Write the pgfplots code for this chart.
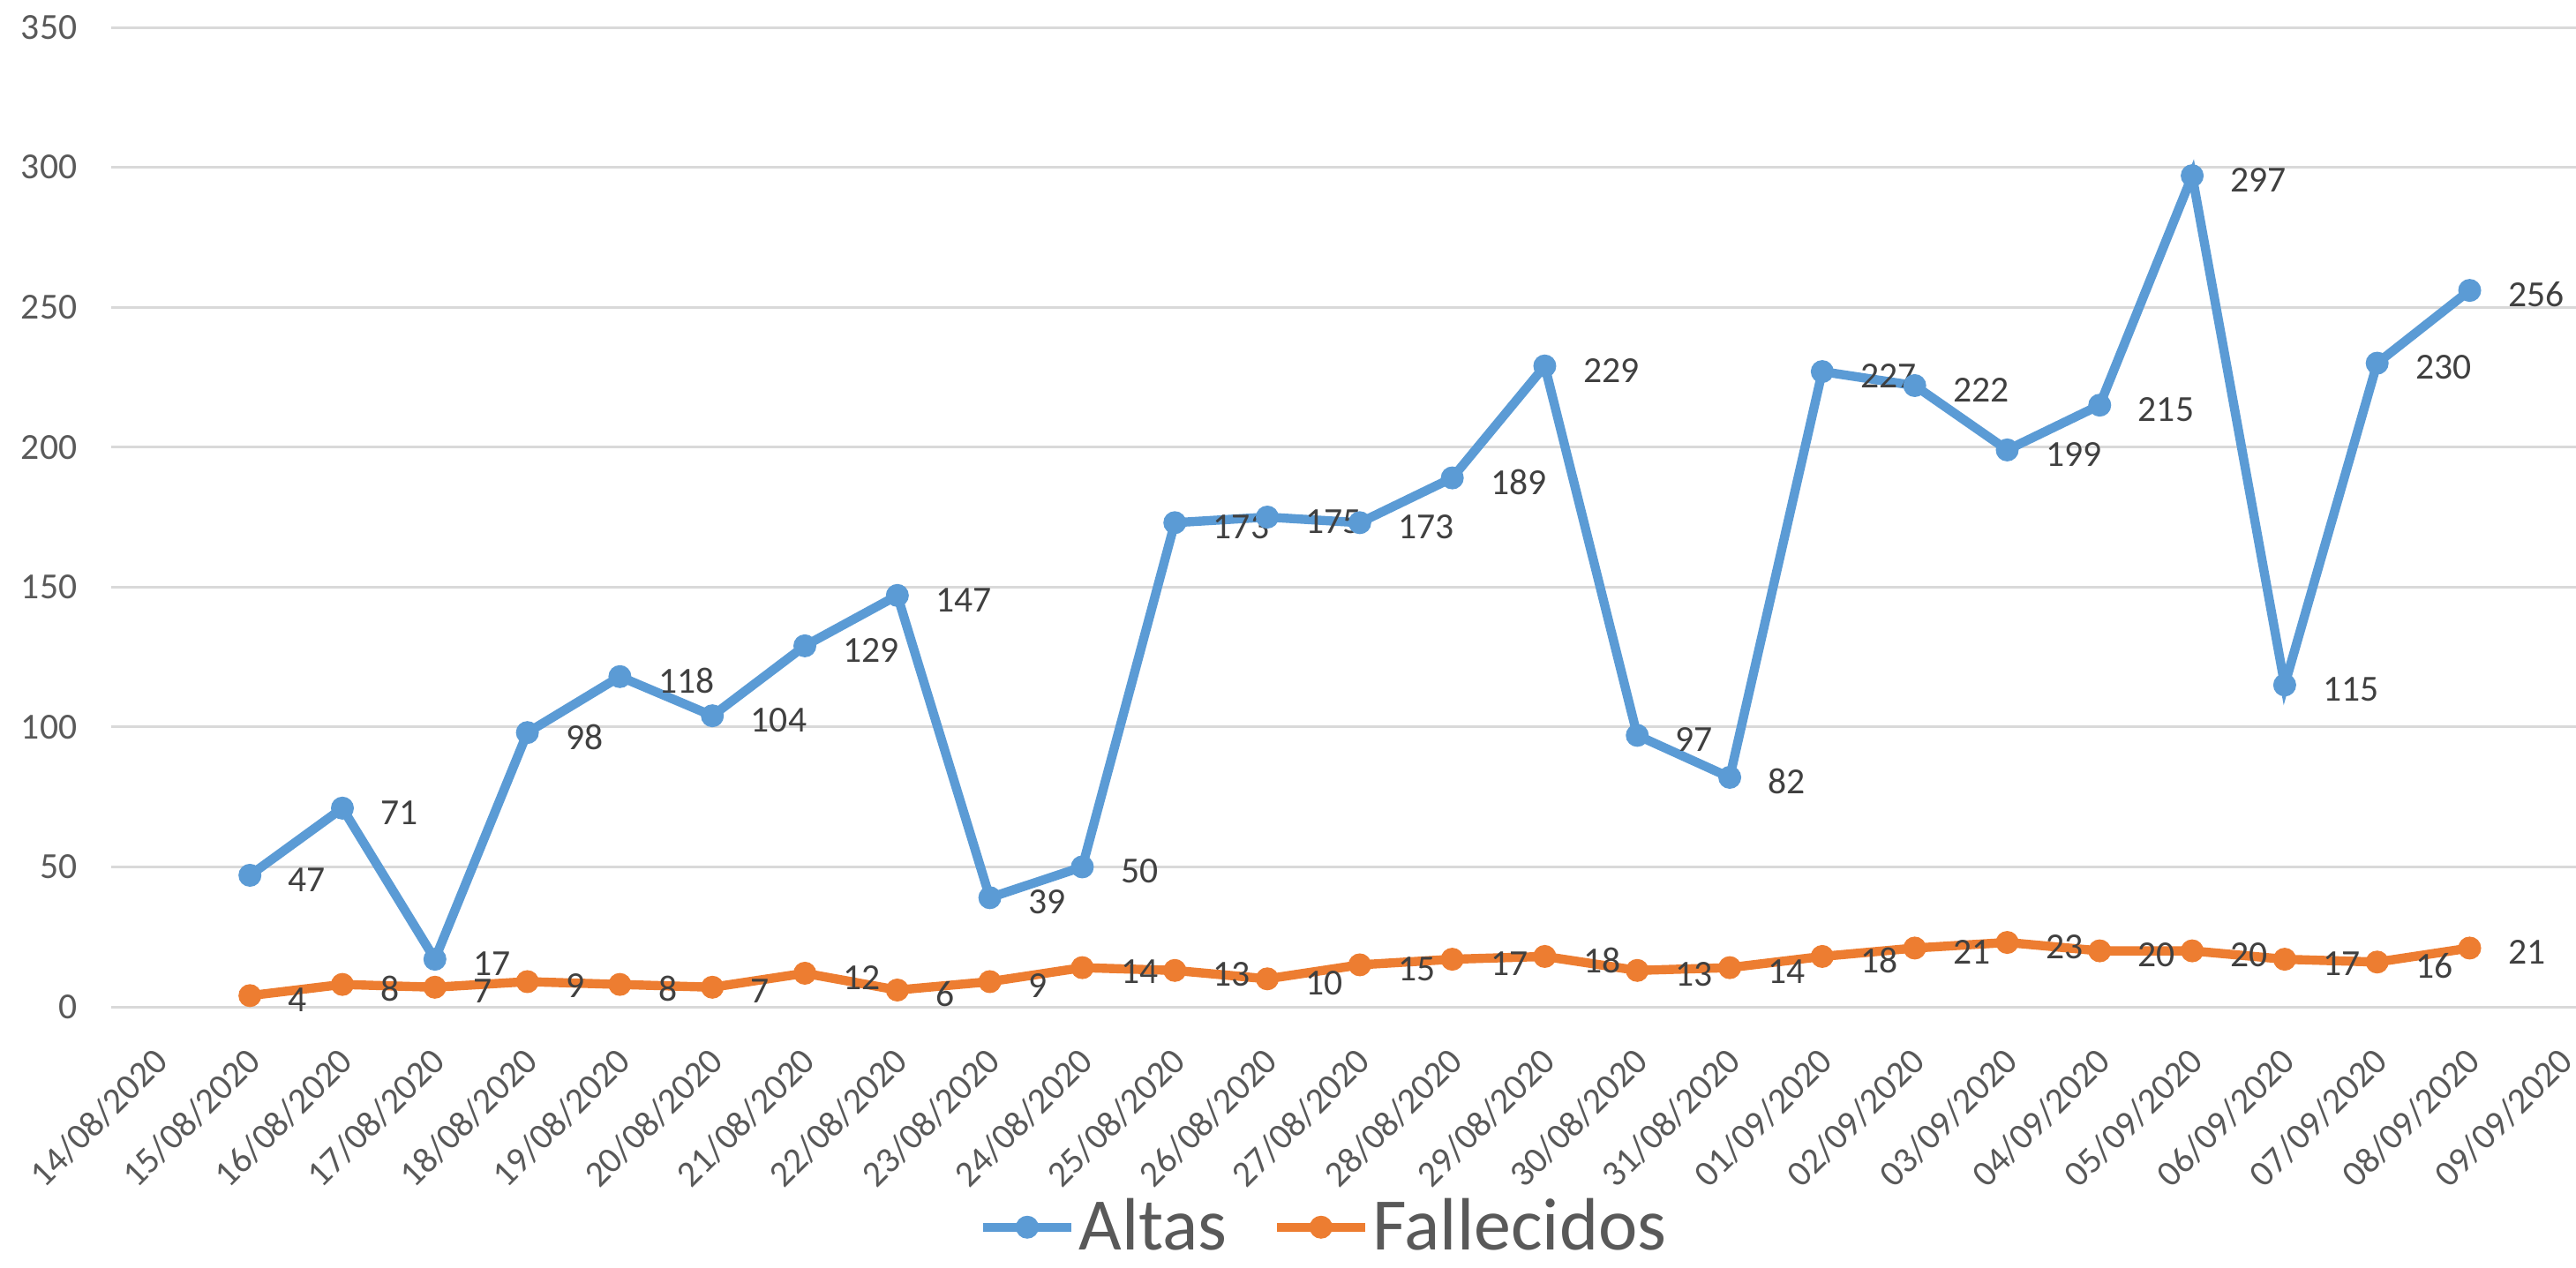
\documentclass[border=0pt]{standalone}
\usepackage{fontspec}
\setmainfont{Carlito}
\usepackage{pgfplots}
\usepackage{pgfplotstable}
\pgfplotsset{compat=1.18}
\usetikzlibrary{calc}
\definecolor{cblue}{HTML}{5B9BD5}
\definecolor{corange}{HTML}{ED7D31}
\definecolor{gridc}{HTML}{D9D9D9}
\definecolor{tickc}{HTML}{595959}
\definecolor{lblc}{HTML}{404040}

\pgfplotstableread{
x altas fallecidos
1 47 4
2 71 8
3 17 7
4 98 9
5 118 8
6 104 7
7 129 12
8 147 6
9 39 9
10 50 14
11 173 13
12 175 10
13 173 15
14 189 17
15 229 18
16 97 13
17 82 14
18 227 18
19 222 21
20 199 23
21 215 20
22 297 20
23 115 17
24 230 16
25 256 21
}\datatable

\begin{document}
\begin{tikzpicture}
\begin{axis}[
  scale only axis,
  width=698.25pt, height=277.5pt,
  xmin=-0.5, xmax=26.15,
  ymin=0, ymax=350,
  ytick={0,50,...,350},
  xtick={0,...,26},
  xticklabels={14/08/2020,15/08/2020,16/08/2020,17/08/2020,18/08/2020,19/08/2020,20/08/2020,21/08/2020,22/08/2020,23/08/2020,24/08/2020,25/08/2020,26/08/2020,27/08/2020,28/08/2020,29/08/2020,30/08/2020,31/08/2020,01/09/2020,02/09/2020,03/09/2020,04/09/2020,05/09/2020,06/09/2020,07/09/2020,08/09/2020,09/09/2020},
  axis line style={draw=none},
  tick style={draw=none},
  ymajorgrids,
  grid style={gridc, line width=0.75pt},
  /pgf/number format/assume math mode=true,
  ticklabel style={font=\fontsize{10.4}{12}\selectfont, text=tickc},
  yticklabel style={anchor=east, inner sep=0pt, xshift=-9.5pt},
  xticklabel style={xshift=1.2pt, yshift=-13.5pt, anchor=east, inner sep=0pt, rotate=45},
  clip=false,
  legend columns=2,
  legend cell align=left,
  legend style={at={(0.492,-0.225)}, anchor=center, draw=none, fill=none,
    font=\fontsize{21}{25}\selectfont, text=tickc,
    nodes={inner sep=0.8pt},
    /tikz/every even column/.append style={column sep=12pt}},
  legend image code/.code={\draw[mark repeat=2, mark phase=2, #1] plot coordinates {(0pt,0pt) (12.5pt,0pt) (25pt,0pt)};},
  nodes near coords={\pgfmathprintnumber[assume math mode=true]{\pgfplotspointmeta}},
  every node near coord/.append style={anchor=west, inner sep=0pt, xshift=10.75pt, yshift=-1.2pt,
    font=\fontsize{10.4}{12}\selectfont, text=lblc},
]
\addplot[cblue, line width=2.6pt, mark=*, mark size=3.1pt, mark options={fill=cblue, draw=cblue, line width=0.3pt}]
  table[x=x, y=altas] {\datatable};
\addlegendentry{Altas}
\addplot[corange, line width=2.6pt, mark=*, mark size=3.1pt, mark options={fill=corange, draw=corange, line width=0.3pt}]
  table[x=x, y=fallecidos] {\datatable};
\addlegendentry{Fallecidos}
\end{axis}
\pgfresetboundingbox
\path ($(current axis.south west)+(-31.5pt,-73.75pt)$) rectangle ($(current axis.north east)+(0pt,7.75pt)$);
\end{tikzpicture}
\end{document}
